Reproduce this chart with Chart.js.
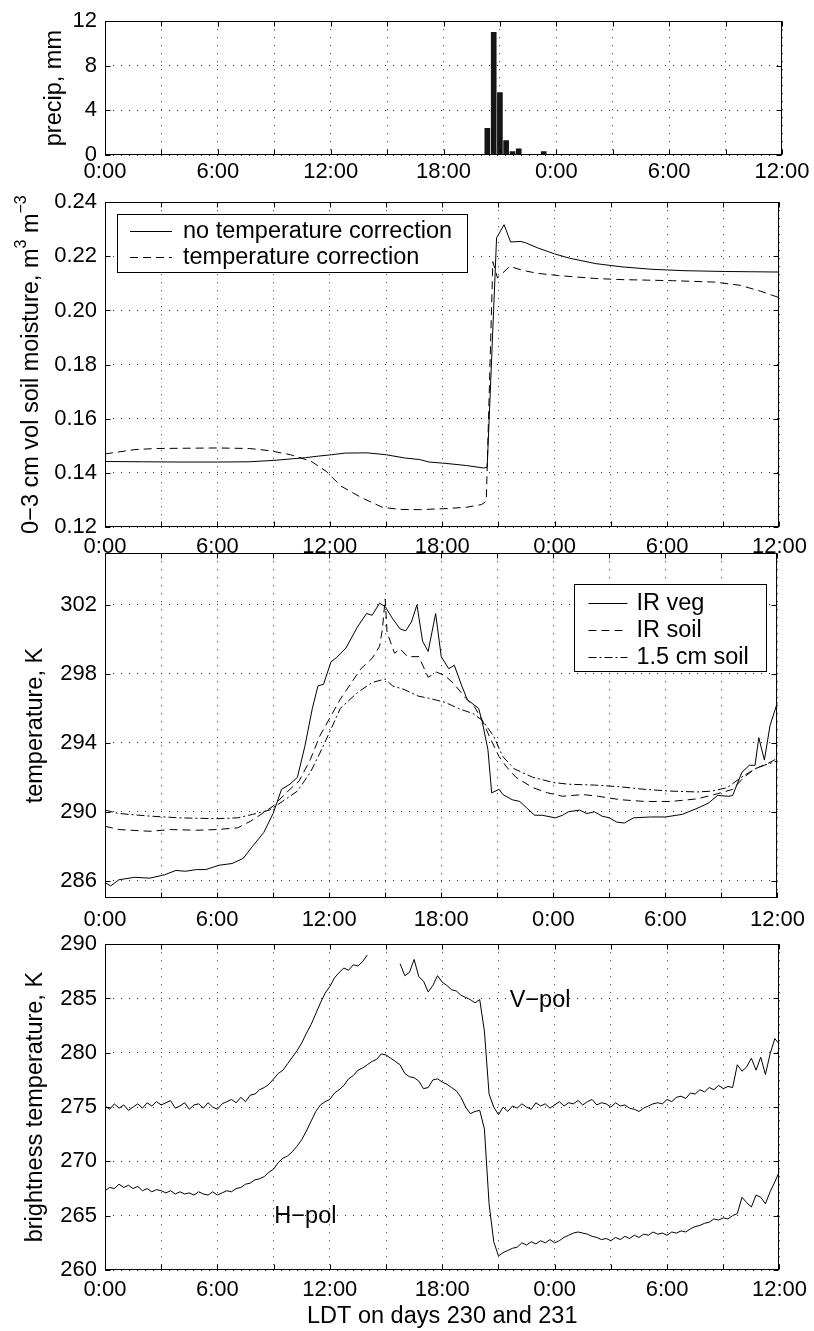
<!DOCTYPE html>
<html><head><meta charset="utf-8">
<script src="https://cdn.jsdelivr.net/npm/chart.js@4/dist/chart.umd.min.js"></script>
<style>
html,body{margin:0;padding:0;background:#fff;}
body{width:814px;height:1331px;position:relative;overflow:hidden;}
canvas{position:absolute;left:0;}
</style></head><body>
<canvas id="c1" width="814" height="190" style="top:0px"></canvas>
<canvas id="c2" width="814" height="381" style="top:181px"></canvas>
<canvas id="c3" width="814" height="401" style="top:532px"></canvas>
<canvas id="c4" width="814" height="408" style="top:923px"></canvas>
<script>
// ---------------- data ----------------
const xTickHours = [0,3,6,9,12,15,18,21,24,27,30,33,36];

const precipTicks = [0,4,8,12];
const precipHours = [20.33,20.67,21.0,21.33,21.67,22.0,23.33];
const precipMm    = [2.4,11.0,5.6,1.3,0.3,0.55,0.3];

const smTicks = [0.12,0.14,0.16,0.18,0.20,0.22,0.24];
const smNoCorrHours = [0,2,4,6,7.7,9,10,10.7,11.4,12.1,12.8,14,15,16,16.8,17.3,18.2,19.3,20.2,20.4,20.9,21.3,21.65,22.2,22.45,23.1,24,24.8,26.2,27.6,29.2,30.9,33.1,36];
const smNoCorr      = [0.1442,0.1441,0.1440,0.1440,0.1441,0.1446,0.1452,0.1456,0.1462,0.1467,0.1473,0.1474,0.1467,0.1455,0.1449,0.1440,0.1435,0.1427,0.1418,0.1421,0.2268,0.2317,0.2253,0.2255,0.2250,0.2231,0.2209,0.2193,0.2173,0.2161,0.2152,0.2147,0.2144,0.2142];
const smCorrHours = [0,1.6,2.7,6,7.7,8.8,9.9,11,11.8,12.6,13.7,14.8,15.7,16.8,18.2,19.3,20.1,20.35,20.7,20.95,21.6,22.3,23.1,24.2,26.2,27.6,30.3,32.5,33.9,35,36];
const smCorr      = [0.1470,0.1486,0.1490,0.1492,0.1490,0.1482,0.1467,0.1443,0.1406,0.1351,0.1308,0.1273,0.1265,0.1264,0.1268,0.1273,0.1283,0.1295,0.2180,0.2120,0.2163,0.2148,0.2137,0.2129,0.2118,0.2114,0.2110,0.2105,0.2093,0.2071,0.2047];

const tempTicks = [286,290,294,298,302];
const irVegHours = [0,0.3,0.75,1.6,2.4,3.2,3.8,4.3,4.9,5.4,6.1,6.8,7.4,7.9,8.5,9.0,9.45,9.9,10.3,10.7,11.1,11.4,11.7,12.1,12.4,12.9,13.5,14.0,14.3,14.7,15.0,15.4,15.8,16.1,16.4,16.7,17.0,17.3,17.7,18.0,18.4,18.7,19.1,19.4,20.0,20.2,20.5,20.7,21.1,21.3,21.8,22.2,22.6,23.0,23.4,24.1,24.5,24.8,25.4,25.8,26.2,26.6,27.0,27.4,27.8,28.3,29.2,30.0,30.9,31.7,32.3,32.8,33.4,33.6,34.1,34.5,34.8,35.0,35.3,35.6,36];
const irVeg      = [285.9,285.7,286.06,286.2,286.15,286.35,286.6,286.55,286.65,286.65,286.9,287.0,287.3,288.0,288.8,289.9,291.3,291.6,292.0,293.8,296.0,297.3,297.4,298.7,298.95,299.5,300.7,301.5,301.4,302.1,301.9,301.2,300.6,300.5,301.0,302.0,299.9,299.3,301.5,299.0,298.3,298.5,297.3,296.5,296.0,295.2,293.6,291.1,291.3,291.0,290.7,290.6,290.2,289.8,289.8,289.65,289.8,290.0,290.1,289.9,290.0,289.75,289.65,289.4,289.35,289.65,289.7,289.7,289.85,290.2,290.5,290.95,290.9,290.95,292.3,292.7,292.7,294.3,293.0,295.0,296.35];
const irSoilHours = [0,0.75,2.4,3.5,4.9,6.0,7.1,7.8,8.35,9.0,9.7,10.4,11.0,11.5,12.1,12.6,13.2,13.7,14.3,14.7,14.85,15.0,15.1,15.5,15.8,16.2,16.8,17.3,17.75,18.2,18.7,19.3,19.8,20.2,20.65,21.1,21.5,22.0,22.9,23.7,24.5,25.6,26.4,27.6,28.9,30.3,31.7,32.8,33.6,34.2,34.8,35.3,36];
const irSoil      = [289.16,288.97,288.87,288.97,288.93,288.97,289.07,289.46,289.85,290.33,291.1,291.8,293.05,294.4,295.57,296.54,297.5,298.3,298.9,299.6,300.6,302.35,300.4,299.2,299.45,299.0,299.0,297.8,298.1,297.9,297.4,296.6,296.06,295.3,294.2,293.2,292.6,292.0,291.4,291.1,290.9,291.0,290.9,290.7,290.6,290.6,290.75,291.05,291.3,292.0,292.5,292.7,293.1];
const soil15Hours = [0,0.75,2.4,4.0,6.0,7.1,7.9,8.8,9.5,10.3,11.0,11.5,12.1,12.6,13.5,14.3,15.0,15.4,16.0,16.8,17.3,18.2,19.0,19.7,20.2,20.8,21.3,21.9,22.9,24.0,24.8,26.2,27.6,28.9,30.3,31.7,32.5,33.3,34.2,35.0,36];
const soil15      = [290.1,289.9,289.75,289.65,289.6,289.65,289.85,290.1,290.6,291.2,292.3,293.4,294.8,296.0,296.9,297.5,297.7,297.3,297.1,296.7,296.6,296.35,295.96,295.7,295.3,294.4,293.2,292.5,292.0,291.7,291.6,291.55,291.45,291.3,291.2,291.15,291.2,291.4,292.1,292.6,292.95];

const tbTicks = [260,265,270,275,280,285,290];
const tbHours = [0,0.25,0.5,0.75,1,1.25,1.5,1.75,2,2.25,2.5,2.75,3,3.25,3.5,3.75,4,4.25,4.5,4.75,5,5.25,5.5,5.75,6,6.25,6.5,6.75,7,7.25,7.5,7.75,8,8.25,8.5,8.75,9,9.25,9.5,9.75,10,10.25,10.5,10.75,11,11.25,11.5,11.75,12,12.25,12.5,12.75,13,13.25,13.5,13.75,14,14.25,14.5,14.75,15,15.25,15.5,15.75,16,16.25,16.5,16.75,17,17.25,17.5,17.75,18,18.25,18.5,18.75,19,19.25,19.5,19.75,20,20.25,20.5,20.75,21,21.25,21.5,21.75,22,22.25,22.5,22.75,23,23.25,23.5,23.75,24,24.25,24.5,24.75,25,25.25,25.5,25.75,26,26.25,26.5,26.75,27,27.25,27.5,27.75,28,28.25,28.5,28.75,29,29.25,29.5,29.75,30,30.25,30.5,30.75,31,31.25,31.5,31.75,32,32.25,32.5,32.75,33,33.25,33.5,33.75,34,34.25,34.5,34.75,35,35.25,35.5,35.75,36];
const tbVpol = [275.1,274.8,275.3,274.9,275.2,274.7,275.0,275.3,274.9,275.4,275.1,275.5,275.2,275.4,275.6,274.9,275.1,275.4,274.8,275.2,275.3,274.9,275.4,275.0,274.8,275.3,275.5,275.7,275.4,275.9,275.5,276.1,276.2,276.6,276.8,277.1,277.6,278.1,278.4,279.0,279.6,280.2,280.9,281.8,282.6,283.6,284.6,285.5,286.1,286.9,287.4,287.8,287.6,288.1,288.0,288.4,289.0,null,null,null,null,null,null,288.2,287.1,287.4,288.6,287.0,286.6,285.6,286.2,287.1,286.5,286.2,285.8,285.7,285.3,285.1,284.9,284.6,284.9,282.0,276.2,275.0,274.3,275.0,274.6,275.1,274.9,275.3,275.0,274.8,275.4,275.1,275.3,274.9,275.2,275.5,275.1,275.4,275.3,275.6,275.2,275.5,275.7,275.2,275.4,275.3,275.0,275.4,275.1,275.2,274.9,274.8,274.6,274.9,275.1,275.3,275.4,275.3,275.7,275.5,275.9,276.0,275.8,276.3,276.2,276.6,276.4,276.8,276.6,277.0,276.7,276.9,276.8,278.9,278.3,278.7,279.5,278.4,279.6,278.0,279.9,281.3,280.8];
const tbHpol = [267.3,267.6,267.5,267.9,267.6,267.8,267.5,267.7,267.3,267.5,267.2,267.4,267.3,267.1,267.3,267.0,267.2,267.0,267.1,266.9,267.2,267.0,266.9,267.2,266.9,267.1,267.3,267.2,267.5,267.6,267.9,268.0,268.3,268.4,268.6,269.0,269.3,269.9,270.3,270.5,270.9,271.4,272.0,272.8,273.7,274.6,275.2,275.5,275.7,276.3,276.6,277.0,277.6,277.9,278.4,278.6,278.9,279.2,279.4,279.9,279.8,279.5,279.2,278.9,278.1,277.8,277.7,277.4,276.7,276.8,277.5,277.6,277.3,277.1,276.8,276.5,275.9,275.0,274.4,274.6,274.7,273.0,266.1,262.6,261.3,261.6,261.8,262.0,262.1,262.5,262.3,262.6,262.4,262.7,262.5,262.8,262.5,262.7,263.0,263.2,263.4,263.5,263.4,263.3,263.1,263.0,262.8,262.9,262.7,263.0,262.8,263.1,262.9,263.2,263.0,263.3,263.2,263.5,263.3,263.4,263.2,263.5,263.4,263.6,263.5,263.8,264.0,264.1,264.3,264.4,264.7,264.6,264.8,264.7,265.0,265.2,266.7,266.2,265.8,266.9,266.7,266.1,267.2,268.1,269.1];

// ---------------- styling ----------------
const FONT = '"Liberation Sans", Arial, Helvetica, sans-serif';
const FS = 22;     // tick labels
const FT = 23.5;   // titles / legend
const GRID_DASH = [1, 7];

function pts(xs, ys){ return xs.map((x,i)=>({x:x, y:ys[i]})); }
function hourLabel(v){ return (v % 6 === 0) ? (v % 24) + ':00' : ''; }

const framePlugin = {
  id: 'frame',
  afterDatasetsDraw(chart){
    const {ctx, chartArea:a, scales:{x, y}} = chart;
    ctx.save();
    ctx.strokeStyle = '#000'; ctx.lineWidth = 1; ctx.setLineDash([]);
    const L = Math.round(a.left)+0.5, R = Math.round(a.right)-0.5, T = Math.round(a.top)+0.5, B = Math.round(a.bottom)-0.5;
    ctx.strokeRect(L, T, R-L, B-T);
    const tl = 5;
    ctx.beginPath();
    x.ticks.forEach(t=>{ const px = Math.round(x.getPixelForValue(t.value))+0.5; ctx.moveTo(px,B); ctx.lineTo(px,B-tl); ctx.moveTo(px,T); ctx.lineTo(px,T+tl); });
    y.ticks.forEach(t=>{ const py = Math.round(y.getPixelForValue(t.value))+0.5; ctx.moveTo(L,py); ctx.lineTo(L+tl,py); ctx.moveTo(R,py); ctx.lineTo(R-tl,py); });
    ctx.stroke();
    ctx.restore();
  }
};

function legendPlugin(cfg){
  return {
    id: 'boxLegend',
    afterDatasetsDraw(chart){
      const {ctx, chartArea:a} = chart;
      const bx = cfg.fromRight ? a.right - cfg.right - cfg.w : a.left + cfg.left;
      const by = a.top + cfg.top;
      ctx.save();
      ctx.fillStyle = '#fff'; ctx.fillRect(bx, by, cfg.w, cfg.h);
      ctx.strokeStyle = '#000'; ctx.lineWidth = 1; ctx.setLineDash([]);
      ctx.strokeRect(Math.round(bx)+0.5, Math.round(by)+0.5, cfg.w, cfg.h);
      chart.data.datasets.forEach((ds, i)=>{
        const yy = Math.round(by + cfg.row0 + i*cfg.rowH) + 0.5;
        ctx.setLineDash(ds.borderDash || []);
        ctx.strokeStyle = '#000'; ctx.lineWidth = 1;
        ctx.beginPath(); ctx.moveTo(bx+cfg.s0, yy); ctx.lineTo(bx+cfg.s1, yy); ctx.stroke();
        ctx.setLineDash([]);
        ctx.fillStyle = '#000'; ctx.font = FT+'px '+FONT; ctx.textBaseline = 'middle'; ctx.textAlign = 'left';
        ctx.fillText(ds.label, bx+cfg.tx, yy);
      });
      ctx.restore();
    }
  };
}

function makeOptions(p){
  return {
    responsive: false, animation: false, events: [],
    layout: { padding: { top: p.padTop, right: 32, left: 0, bottom: 0 } },
    plugins: { legend: { display: false }, tooltip: { enabled: false } },
    scales: {
      x: {
        type: 'linear', min: 0, max: 36, offset: false,
        afterBuildTicks: s => { s.ticks = xTickHours.map(v=>({value:v})); },
        afterFit: s => { s.height = p.xh; },
        ticks: { callback: v => hourLabel(v), autoSkip: false, maxRotation: 0, font: { family: FONT, size: FS }, color: '#000', padding: p.xPad },
        grid: { color: '#333', lineWidth: 1, drawTicks: false, offset: false },
        border: { display: false, dash: GRID_DASH },
        title: p.xTitle ? { display: true, text: p.xTitle, font: { family: FONT, size: FT }, color: '#000', padding: { top: 0, bottom: 0 } } : { display: false }
      },
      y: {
        type: 'linear', min: p.yMin, max: p.yMax,
        afterBuildTicks: s => { s.ticks = p.yTicks.map(v=>({value:v})); },
        afterFit: s => { s.width = 105; },
        ticks: { callback: p.yFmt, font: { family: FONT, size: FS }, color: '#000', padding: 8 },
        grid: { color: '#333', lineWidth: 1, drawTicks: false },
        border: { display: false, dash: GRID_DASH },
        title: p.yTitle ? { display: true, text: p.yTitle, font: { family: FONT, size: FT }, color: '#000', padding: { top: p.titlePad, bottom: 0 } } : { display: false }
      }
    }
  };
}

const lineBase = { borderColor: '#000', borderWidth: 1, pointRadius: 0, tension: 0, fill: false, spanGaps: false };

// ---------- panel 1: precipitation ----------
new Chart(document.getElementById('c1'), {
  type: 'bar',
  data: { datasets: [{ label: 'precip', data: pts(precipHours, precipMm), backgroundColor: '#151515', borderWidth: 0, barThickness: 5 }] },
  options: makeOptions({ padTop: 15, xh: 35, xPad: 4, yMin: 0, yMax: 12, yTicks: precipTicks, yFmt: v => String(v), yTitle: 'precip, mm', titlePad: 40 }),
  plugins: [framePlugin]
});

// ---------- panel 2: soil moisture ----------
const supTitle = {
  id: 'supTitle',
  afterDraw(chart){
    const {ctx, chartArea:a} = chart;
    const parts = [ {t:'0\u22123 cm vol soil moisture, m'}, {t:'3', sup:true}, {t:' m'}, {t:'\u22123', sup:true} ];
    const cx = 32, cy = (a.top + a.bottom)/2;
    ctx.save();
    ctx.translate(cx, cy); ctx.rotate(-Math.PI/2);
    let total = 0;
    parts.forEach(p=>{ ctx.font = (p.sup ? 16 : FT)+'px '+FONT; p.w = ctx.measureText(p.t).width; total += p.w; });
    let x = -total/2;
    ctx.fillStyle = '#000'; ctx.textBaseline = 'middle'; ctx.textAlign = 'left';
    parts.forEach(p=>{ ctx.font = (p.sup ? 16 : FT)+'px '+FONT; ctx.fillText(p.t, x, p.sup ? -10 : 0); x += p.w; });
    ctx.restore();
  }
};
new Chart(document.getElementById('c2'), {
  type: 'line',
  data: { datasets: [
    Object.assign({ label: 'no temperature correction', data: pts(smNoCorrHours, smNoCorr) }, lineBase),
    Object.assign({ label: 'temperature correction', data: pts(smCorrHours, smCorr), borderDash: [8,5] }, lineBase)
  ] },
  options: makeOptions({ padTop: 20, xh: 35, xPad: 7, yMin: 0.12, yMax: 0.24, yTicks: smTicks, yFmt: v => v.toFixed(2), yTitle: null }),
  plugins: [framePlugin, legendPlugin({ left: 12, top: 12, w: 350, h: 58, row0: 17, rowH: 26, s0: 13, s1: 55, tx: 66 }), supTitle]
});

// ---------- panel 3: temperatures ----------
new Chart(document.getElementById('c3'), {
  type: 'line',
  data: { datasets: [
    Object.assign({ label: 'IR veg', data: pts(irVegHours, irVeg) }, lineBase),
    Object.assign({ label: 'IR soil', data: pts(irSoilHours, irSoil), borderDash: [8,5] }, lineBase),
    Object.assign({ label: '1.5 cm soil', data: pts(soil15Hours, soil15), borderDash: [8,3,2,3] }, lineBase)
  ] },
  options: makeOptions({ padTop: 20, xh: 35, xPad: 9, yMin: 285, yMax: 305, yTicks: tempTicks, yFmt: v => String(v), yTitle: 'temperature, K', titlePad: 21 }),
  plugins: [framePlugin, legendPlugin({ fromRight: true, right: 11, top: 31, w: 192, h: 87, row0: 19, rowH: 27, s0: 14, s1: 53, tx: 62 })]
});

// ---------- panel 4: brightness temperature ----------
const polLabels = {
  id: 'polLabels',
  afterDatasetsDraw(chart){
    const {ctx, scales:{x, y}} = chart;
    ctx.save();
    ctx.fillStyle = '#000'; ctx.font = FT+'px '+FONT; ctx.textBaseline = 'middle'; ctx.textAlign = 'left';
    ctx.fillText('V\u2212pol', x.getPixelForValue(21.6), y.getPixelForValue(284.8));
    ctx.fillText('H\u2212pol', x.getPixelForValue(9.04), y.getPixelForValue(264.9));
    ctx.restore();
  }
};
new Chart(document.getElementById('c4'), {
  type: 'line',
  data: { datasets: [
    Object.assign({ label: 'V-pol', data: pts(tbHours, tbVpol) }, lineBase),
    Object.assign({ label: 'H-pol', data: pts(tbHours, tbHpol) }, lineBase)
  ] },
  options: makeOptions({ padTop: 20, xh: 61, xPad: 7, yMin: 260, yMax: 290, yTicks: tbTicks, yFmt: v => String(v), yTitle: 'brightness temperature, K', titlePad: 21, xTitle: 'LDT on days 230 and 231' }),
  plugins: [framePlugin, polLabels]
});
</script>
</body></html>
